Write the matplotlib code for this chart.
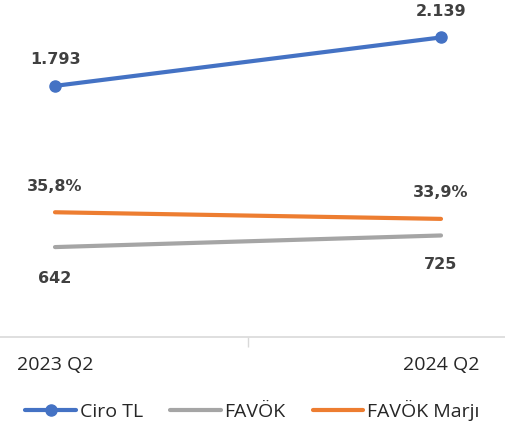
import numpy as np
import matplotlib.pyplot as plt

# data
quarters = ["2023 Q2", "2024 Q2"]
ciro_tl = [1793, 2139]
favok = [642, 725]
favok_marji = [35.8, 33.9]

ciro_labels = ["1.793", "2.139"]
favok_labels = ["642", "725"]
marji_labels = ["35,8%", "33,9%"]

blue = "#4472C4"
grey = "#A5A5A5"
orange = "#ED7D31"
txt = "#404040"

fig = plt.figure(figsize=(5.05, 4.25), dpi=100)
ax = fig.add_axes([0, 88 / 425, 1, 337 / 425])
ax2 = ax.twinx()

x = np.arange(len(quarters))

l1, = ax.plot(x, ciro_tl, color=blue, lw=3, marker="o", ms=8,
              solid_capstyle="round", label="Ciro TL")
l2, = ax.plot(x, favok, color=grey, lw=3, solid_capstyle="round", label="FAVÖK")
l3, = ax2.plot(x, favok_marji, color=orange, lw=3, solid_capstyle="round",
               label="FAVÖK Marjı")

ax.set_xlim(-55 / 386, 1 + 64 / 386)
ax.set_ylim(0, 337 * 7.14)
ax2.set_ylim(0, 337 * 0.287)

# data labels
lab_kw = dict(ha="center", va="center", fontsize=11.5, fontweight="bold", color=txt)
ax.annotate(ciro_labels[0], (x[0], ciro_tl[0]), xytext=(0, 26), textcoords="offset pixels", **lab_kw)
ax.annotate(ciro_labels[1], (x[1], ciro_tl[1]), xytext=(0, 26), textcoords="offset pixels", **lab_kw)
ax.annotate(favok_labels[0], (x[0], favok[0]), xytext=(0, -31), textcoords="offset pixels", **lab_kw)
ax.annotate(favok_labels[1], (x[1], favok[1]), xytext=(0, -29), textcoords="offset pixels", **lab_kw)
ax2.annotate(marji_labels[0], (x[0], favok_marji[0]), xytext=(0, 26), textcoords="offset pixels", **lab_kw)
ax2.annotate(marji_labels[1], (x[1], favok_marji[1]), xytext=(0, 26), textcoords="offset pixels", **lab_kw)

for a in (ax, ax2):
    for s in ["top", "left", "right"]:
        a.spines[s].set_visible(False)
    a.set_yticks([])
ax2.spines["bottom"].set_visible(False)
ax.spines["bottom"].set_color("#D9D9D9")
ax.spines["bottom"].set_linewidth(1.2)

# category tick between the two points, labels without ticks
ax.set_xticks([0.5])
ax.set_xticklabels([""])
ax.tick_params(axis="x", length=7, color="#D9D9D9", width=1)
for i, q in enumerate(quarters):
    ax.annotate(q, (x[i], 0), xytext=(0, -28), textcoords="offset pixels",
                ha="center", va="center", fontsize=14, color="#262626",
                family="Open Sans", annotation_clip=False)

fig.legend(handles=[l1, l2, l3], loc="center", bbox_to_anchor=(0.5, 15 / 425),
           ncol=3, frameon=False, handlelength=2.6, handletextpad=0.2,
           columnspacing=1.4, prop={"family": "Open Sans", "size": 14},
           labelcolor="#262626")

fig.savefig("out.png", dpi=100)
